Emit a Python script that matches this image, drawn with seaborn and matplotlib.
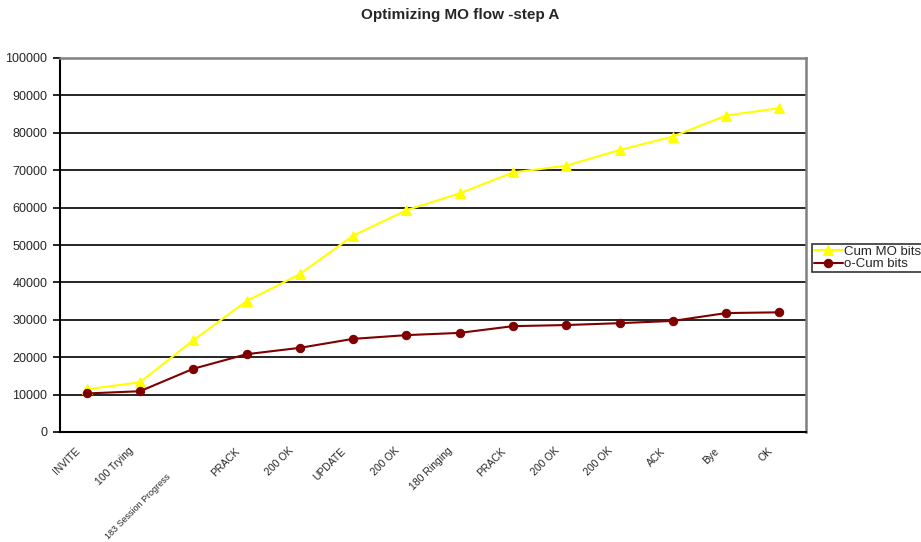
import matplotlib
matplotlib.use("Agg")
import matplotlib.pyplot as plt
import matplotlib.transforms as mtransforms
import numpy as np
import pandas as pd
import seaborn as sns

# message steps of the call flow (x axis)
steps = ['INVITE', '100 Trying', '183 Session Progress', 'PRACK', '200 OK', 'UPDATE',
         '200 OK', '180 Ringing', 'PRACK', '200 OK', '200 OK', 'ACK', 'Bye', 'OK']
cum_mo_bits = [11400, 13300, 24500, 35000, 42200, 52500, 59300, 63800,
               69400, 71200, 75400, 79000, 84600, 86600]
o_cum_bits = [10300, 10900, 16900, 20800, 22500, 24900, 25900, 26500,
              28300, 28600, 29100, 29700, 31800, 32000]

sns.set_style("white")
plt.rcParams['font.family'] = ['Liberation Sans', 'DejaVu Sans']

df = pd.DataFrame({'pos': np.arange(len(steps)), 'Cum MO bits': cum_mo_bits,
                   'o-Cum bits': o_cum_bits})

fig = plt.figure(figsize=(9.21, 5.42), dpi=100)
ax = fig.add_axes([60 / 921, 1 - 432 / 542, 746 / 921, 374 / 542])

sns.lineplot(data=df, x='pos', y='Cum MO bits', ax=ax, color='#ffff00', marker='^',
             markersize=6.5, markeredgecolor='#ffff00', linewidth=1.5, label='Cum MO bits')
sns.lineplot(data=df, x='pos', y='o-Cum bits', ax=ax, color='#800000', marker='o',
             markersize=6, markeredgecolor='#800000', linewidth=1.5, label='o-Cum bits')

ax.set_xlim(-0.5, len(steps) - 0.5)
ax.set_ylim(0, 100000)
ax.set_yticks(np.arange(0, 100001, 10000))
ax.yaxis.grid(True, color='black', linewidth=1.2)
ax.set_axisbelow(True)
ax.set_xlabel('')
ax.set_ylabel('')

# category labels at centres, tick marks at boundaries
ax.set_xticks(np.arange(len(steps)))
ax.set_xticklabels(steps, rotation=45, ha='right', rotation_mode='anchor', fontsize=7.5)
ax.set_xticks(np.arange(-0.5, len(steps)), minor=True)
ax.tick_params(axis='x', which='major', length=0, pad=10)
ax.tick_params(axis='x', which='minor', length=4, width=1.2, color='black', direction='out')
ax.tick_params(axis='y', length=5, width=1.2, color='black', direction='out',
               labelsize=9, left=True, pad=4)

# labels sit a bit left of the centres, the long one pushed down like the original
for i, lab in enumerate(ax.get_xticklabels()):
    dx, dy = -12 / 100, 0
    if i == 2:
        lab.set_fontsize(6.5)
        dx, dy = -27 / 100, -26 / 100
    lab.set_transform(lab.get_transform() + mtransforms.ScaledTranslation(dx, dy, fig.dpi_scale_trans))

for side in ['left', 'bottom']:
    ax.spines[side].set_color('black')
    ax.spines[side].set_linewidth(1.5)
for side in ['top', 'right']:
    ax.spines[side].set_color('#808080')
    ax.spines[side].set_linewidth(1.8)

fig.suptitle('Optimizing MO flow -step A', fontsize=11, fontweight='bold', x=0.5, y=1 - 15 / 542,
             va='center')

leg = ax.legend(loc='center left', bbox_to_anchor=(812 / 921, 1 - 258 / 542),
                bbox_transform=fig.transFigure, frameon=True, fancybox=False,
                fontsize=9.5, handlelength=2.2, borderpad=0.15, labelspacing=0.0,
                handletextpad=0.1, borderaxespad=0)
leg.get_frame().set_edgecolor('black')
leg.get_frame().set_linewidth(1.2)

fig.savefig('out.png', dpi=100)
